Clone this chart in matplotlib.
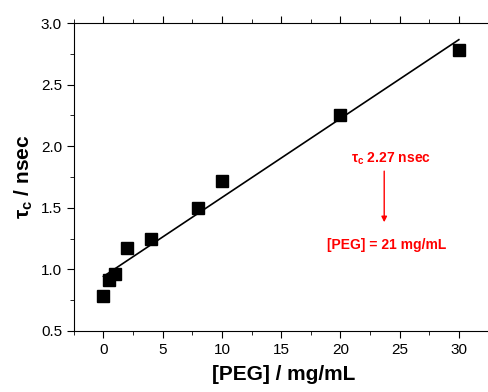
import matplotlib
matplotlib.use("Agg")
import matplotlib.pyplot as plt
import numpy as np
from matplotlib.ticker import MultipleLocator

plt.rcParams['font.family'] = ['Liberation Sans', 'DejaVu Sans']
plt.rcParams['mathtext.fontset'] = 'custom'
plt.rcParams['mathtext.rm'] = 'Liberation Sans'
plt.rcParams['mathtext.bf'] = 'Liberation Sans:bold'
plt.rcParams['mathtext.it'] = 'Liberation Sans:italic'

# [PEG] in mg/mL and tau_c in nsec
peg = [0, 0.5, 1, 2, 4, 8, 10, 20, 30]
tau = [0.78, 0.91, 0.96, 1.17, 1.25, 1.50, 1.72, 2.25, 2.78]

xticks = [0, 5, 10, 15, 20, 25, 30]
yticks = [0.5, 1.0, 1.5, 2.0, 2.5, 3.0]

fig = plt.figure(figsize=(4.89, 3.92), dpi=100)
# right spine sits just outside the image, like the reference
ax = fig.add_axes([0.151, 0.156, 0.86, 0.785])

# linear fit
k, b = np.polyfit(peg, tau, 1)
xf = np.array([0, 30])
ax.plot(xf, k * xf + b, color='black', lw=1.2)
ax.plot(peg, tau, 's', color='black', markersize=8, zorder=3)

ax.set_xlim(-2.5, 33.0)
ax.set_ylim(0.5, 3.0)
ax.set_xticks(xticks)
ax.set_yticks(yticks)
ax.set_yticklabels([f'{v:.1f}' for v in yticks])
ax.xaxis.set_minor_locator(MultipleLocator(2.5))
ax.yaxis.set_minor_locator(MultipleLocator(0.25))
ax.tick_params(which='both', direction='out', labelsize=11)
ax.tick_params(which='major', length=5)
ax.tick_params(which='minor', length=3)
# small ticks on the top spine
ax.tick_params(axis='x', which='both', top=True)

ax.set_xlabel('[PEG] / mg/mL', fontsize=15, fontweight='bold', labelpad=6)
ax.set_ylabel(r'$\mathbf{\tau_c}$ / nsec', fontsize=15, fontweight='bold', labelpad=4)

# annotation
red = '#ff0000'
ax.text(24.3, 1.90, r'$\mathbf{\tau_c}$ 2.27 nsec', color=red, fontsize=10,
        fontweight='bold', ha='center', va='center')
ax.annotate('', xy=(23.7, 1.36), xytext=(23.7, 1.82),
            arrowprops=dict(arrowstyle='-|>', color=red, lw=1, mutation_scale=8))
ax.text(23.9, 1.20, '[PEG] = 21 mg/mL', color=red, fontsize=10,
        fontweight='bold', ha='center', va='center')

fig.savefig('out.png', dpi=100)
